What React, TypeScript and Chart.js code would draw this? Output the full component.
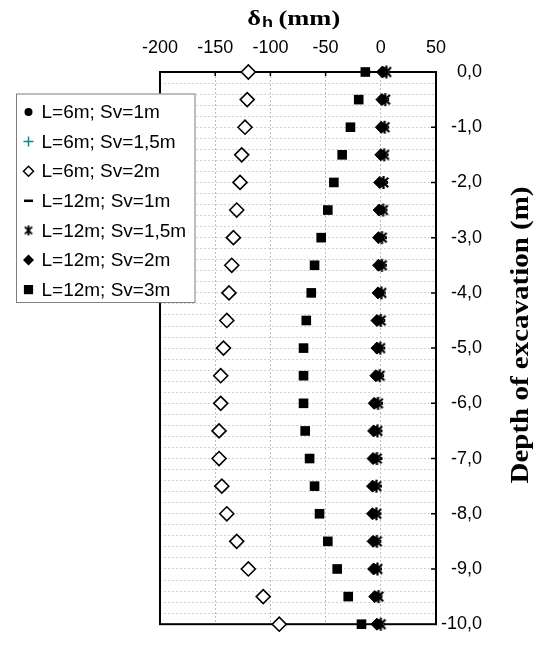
import React, { useEffect, useRef } from 'react';
import { Chart, registerables } from 'chart.js';

Chart.register(...registerables);

// ---------- data ----------
const depths = [0, -0.5, -1, -1.5, -2, -2.5, -3, -3.5, -4, -4.5, -5, -5.5, -6, -6.5, -7, -7.5, -8, -8.5, -9, -9.5, -10];

const seriesLabels = [
  'L=6m; Sv=1m',
  'L=6m; Sv=1,5m',
  'L=6m; Sv=2m',
  'L=12m; Sv=1m',
  'L=12m; Sv=1,5m',
  'L=12m; Sv=2m',
  'L=12m; Sv=3m',
];

const l6sv1 = [2.5, 1.5, 1, 0.5, 0, -0.5, -1.5, -1, -1.5, -2.5, -2.5, -3.5, -5, -5.5, -6, -6.5, -6.5, -6, -5.5, -4.5, -2.5];
const l6sv15 = [3, 2, 1.5, 1, 0.5, 0, -1, -0.5, -1, -2, -2, -3, -4.5, -5, -5.5, -6, -6, -5.5, -5, -4, -2];
const l6sv2 = [-120, -121, -123, -126, -127.5, -130.5, -133.5, -135, -137.5, -139.5, -142.5, -145, -145, -146.5, -146.5, -144, -139.5, -130.5, -120, -106.5, -92];
const l12sv1 = [4, 3, 3, 2.5, 2, 1.5, 1, 1, 0, -0.5, -0.5, -1.5, -2.5, -3, -3, -3.5, -4, -4, -3.5, -3, -1];
const l12sv15 = [5, 4, 3.5, 3, 2.5, 2, 1, 1, 0.5, 0, -0.5, -1, -2.5, -3, -3.5, -4, -4, -3.5, -3, -2, 0];
const l12sv2 = [1.5, 1, 0.5, 0, -1, -1.5, -2, -2, -2.5, -3.5, -3.5, -4.5, -6, -6.5, -7, -7.5, -7.5, -7, -6.5, -5.5, -3.5];
const l12sv3 = [-14, -20, -27.5, -35, -42.5, -48, -54, -60, -63, -67.5, -70, -70, -70, -68.5, -64.5, -60, -55.5, -48, -39.5, -29.5, -17.5];

const xTickValues = [-200, -150, -100, -50, 0, 50];
const xTitleMain = 'δ';
const xTitleSub = 'h';
const xTitleUnit = ' (mm)';
const yTitle = 'Depth of excavation (m)';

const SANS = "'Liberation Sans', Arial, sans-serif";
const SERIF = "'Liberation Serif', 'Times New Roman', serif";
const TEAL = '#0a8a8a';

function toPts(vals: number[]) {
  return vals.map((v, i) => ({ x: v, y: depths[i] }));
}

function makeAsterisk(size: number, lw: number) {
  const c = document.createElement('canvas');
  c.width = size;
  c.height = size;
  const ctx = c.getContext('2d')!;
  const m = size / 2;
  const r = size / 2 - 1;
  ctx.strokeStyle = '#000';
  ctx.lineWidth = lw;
  ctx.beginPath();
  ctx.moveTo(m, m - r);
  ctx.lineTo(m, m + r);
  const d = r * 0.72;
  ctx.moveTo(m - d, m - d);
  ctx.lineTo(m + d, m + d);
  ctx.moveTo(m - d, m + d);
  ctx.lineTo(m + d, m - d);
  ctx.stroke();
  return c;
}

function drawLegendMarker(ctx: CanvasRenderingContext2D, kind: string, x: number, y: number, ast: HTMLCanvasElement) {
  ctx.save();
  ctx.fillStyle = '#000';
  ctx.strokeStyle = '#000';
  switch (kind) {
    case 'circle':
      ctx.beginPath();
      ctx.arc(x, y, 4, 0, Math.PI * 2);
      ctx.fill();
      break;
    case 'cross':
      ctx.strokeStyle = TEAL;
      ctx.lineWidth = 1.5;
      ctx.beginPath();
      ctx.moveTo(x - 5, y);
      ctx.lineTo(x + 5, y);
      ctx.moveTo(x, y - 5);
      ctx.lineTo(x, y + 5);
      ctx.stroke();
      break;
    case 'diamondOpen':
      ctx.lineWidth = 1.5;
      ctx.fillStyle = '#fff';
      ctx.beginPath();
      ctx.moveTo(x, y - 5);
      ctx.lineTo(x + 5, y);
      ctx.lineTo(x, y + 5);
      ctx.lineTo(x - 5, y);
      ctx.closePath();
      ctx.fill();
      ctx.stroke();
      break;
    case 'dash':
      ctx.lineWidth = 2.5;
      ctx.beginPath();
      ctx.moveTo(x - 4.5, y);
      ctx.lineTo(x + 4.5, y);
      ctx.stroke();
      break;
    case 'asterisk':
      ctx.drawImage(ast, x - ast.width / 2, y - ast.height / 2);
      break;
    case 'diamond':
      ctx.beginPath();
      ctx.moveTo(x, y - 5.5);
      ctx.lineTo(x + 5.5, y);
      ctx.lineTo(x, y + 5.5);
      ctx.lineTo(x - 5.5, y);
      ctx.closePath();
      ctx.fill();
      break;
    case 'square':
      ctx.fillRect(x - 4.6, y - 4.6, 9.2, 9.2);
      break;
  }
  ctx.restore();
}

const markerKinds = ['circle', 'cross', 'diamondOpen', 'dash', 'asterisk', 'diamond', 'square'];

export default function App() {
  const ref = useRef<HTMLCanvasElement | null>(null);

  useEffect(() => {
    if (!ref.current) return;
    const ast = makeAsterisk(15, 2.2);
    const astLegend = makeAsterisk(12, 1.8);

    const decorPlugin = {
      id: 'decor',
      beforeDatasetsDraw(chart: any) {
        const { ctx, chartArea: a, scales } = chart;
        ctx.save();
        ctx.strokeStyle = '#000';
        ctx.lineWidth = 2;
        ctx.strokeRect(a.left, a.top, a.right - a.left, a.bottom - a.top);
        ctx.lineWidth = 1.5;
        ctx.beginPath();
        for (let d = -1; d >= -9; d--) {
          const y = scales.y.getPixelForValue(d);
          ctx.moveTo(a.right - 5, y);
          ctx.lineTo(a.right, y);
        }
        for (const v of xTickValues) {
          if (v === -200 || v === 50) continue;
          const x = scales.x.getPixelForValue(v);
          ctx.moveTo(x, a.top);
          ctx.lineTo(x, a.top + 4);
        }
        ctx.stroke();
        ctx.restore();
      },
      afterDraw(chart: any) {
        const { ctx } = chart;
        // legend
        ctx.save();
        const bx = 8, by = 85.5, bw = 178.5, bh = 208.5;
        ctx.fillStyle = '#fff';
        ctx.fillRect(bx, by, bw, bh);
        ctx.strokeStyle = '#7f7f7f';
        ctx.lineWidth = 1;
        ctx.strokeRect(bx + 0.5, by + 0.5, bw, bh);
        ctx.fillStyle = '#000';
        ctx.font = `19px ${SANS}`;
        ctx.textAlign = 'left';
        ctx.textBaseline = 'middle';
        seriesLabels.forEach((lab, i) => {
          const y = 104 + i * 29.6;
          drawLegendMarker(ctx, markerKinds[i], 20.5, y, astLegend);
          ctx.fillStyle = '#000';
          ctx.fillText(lab, 33.5, y + 1);
        });
        ctx.restore();

        // x title
        ctx.save();
        ctx.fillStyle = '#000';
        ctx.textBaseline = 'alphabetic';
        const fMain = `bold 22px ${SERIF}`;
        const fSub = `bold 15px ${SANS}`;
        ctx.font = fMain;
        const w1 = ctx.measureText(xTitleMain).width;
        const w3 = ctx.measureText(xTitleUnit).width;
        ctx.font = fSub;
        const w2 = ctx.measureText(xTitleSub).width;
        const total = w1 + w2 + w3;
        const target = 93;
        const sx = target / total;
        ctx.translate(285.7 - target / 2, 17);
        ctx.scale(sx, 1);
        ctx.font = fMain;
        ctx.textAlign = 'left';
        ctx.fillText(xTitleMain, 0, 0);
        ctx.font = fSub;
        ctx.fillText(xTitleSub, w1 + 1, 1.5);
        ctx.font = fMain;
        ctx.fillText(xTitleUnit, w1 + w2, 0);
        ctx.restore();

        // y title
        ctx.save();
        ctx.fillStyle = '#000';
        ctx.translate(514, 327);
        ctx.rotate(-Math.PI / 2);
        ctx.font = `bold 25px ${SERIF}`;
        const wy = ctx.measureText(yTitle).width;
        ctx.scale(297 / wy, 1);
        ctx.textAlign = 'center';
        ctx.textBaseline = 'middle';
        ctx.fillText(yTitle, 0, 0);
        ctx.restore();
      },
    };

    const common = { showLine: false, clip: false as any };

    const chart = new Chart(ref.current, {
      type: 'scatter',
      data: {
        datasets: [
          { ...common, label: seriesLabels[0], data: toPts(l6sv1), pointStyle: 'circle', pointRadius: 4.5, pointHoverRadius: 4.5, backgroundColor: '#000', borderColor: '#000', borderWidth: 1 },
          { ...common, label: seriesLabels[1], data: toPts(l6sv15), pointStyle: 'cross', pointRadius: 5, pointHoverRadius: 5, backgroundColor: TEAL, borderColor: TEAL, borderWidth: 1.5 },
          { ...common, label: seriesLabels[2], data: toPts(l6sv2), pointStyle: 'rectRot', pointRadius: 7, pointHoverRadius: 7, backgroundColor: '#fff', borderColor: '#000', borderWidth: 1.6 },
          { ...common, label: seriesLabels[3], data: toPts(l12sv1), pointStyle: 'line', pointRadius: 5, pointHoverRadius: 5, backgroundColor: '#000', borderColor: '#000', borderWidth: 3 },
          { ...common, label: seriesLabels[4], data: toPts(l12sv15), pointStyle: ast as any, pointRadius: 7, pointHoverRadius: 7, backgroundColor: '#000', borderColor: '#000' },
          { ...common, label: seriesLabels[5], data: toPts(l12sv2), pointStyle: 'rectRot', pointRadius: 6, pointHoverRadius: 6, backgroundColor: '#000', borderColor: '#000', borderWidth: 1 },
          { ...common, label: seriesLabels[6], data: toPts(l12sv3), pointStyle: 'rect', pointRadius: 6.8, pointHoverRadius: 6.8, backgroundColor: '#000', borderColor: '#000', borderWidth: 0 },
        ] as any,
      },
      options: {
        animation: false,
        responsive: false,
        events: [],
        layout: { padding: { left: 152, right: 53, top: 0, bottom: 4 } },
        plugins: { legend: { display: false }, tooltip: { enabled: false }, title: { display: false } },
        scales: {
          x: {
            type: 'linear',
            position: 'top',
            min: -200,
            max: 50,
            afterBuildTicks: (s: any) => {
              s.ticks = xTickValues.map((v) => ({ value: v }));
            },
            ticks: { font: { family: SANS, size: 18 }, color: '#000', padding: 13, maxRotation: 0, autoSkip: false },
            grid: { color: '#bdbdbd', lineWidth: 1, drawTicks: false },
            border: { display: false, dash: [2, 2] },
            afterFit: (s: any) => {
              s.height = 64;
            },
          },
          y: {
            type: 'linear',
            position: 'right',
            min: -10,
            max: 0,
            ticks: {
              stepSize: 0.2,
              autoSkip: false,
              font: { family: SANS, size: 18 },
              color: '#000',
              padding: 5,
              crossAlign: 'far',
              callback: (v: any) => {
                const n = Number(v);
                if (Math.abs(n - Math.round(n)) < 1e-6) {
                  return `${Math.round(n)},0`;
                }
                return '';
              },
            },
            grid: { color: '#d2d2d2', lineWidth: 1, drawTicks: false },
            border: { display: false, dash: [2, 2] },
            afterFit: (s: any) => {
              s.width = 46;
            },
          },
        },
      } as any,
      plugins: [decorPlugin],
    });
    return () => chart.destroy();
  }, []);

  return (
    <div style={{ width: 527, height: 632 }}>
      <canvas ref={ref} width={527} height={632} style={{ display: 'block' }} />
    </div>
  );
}
